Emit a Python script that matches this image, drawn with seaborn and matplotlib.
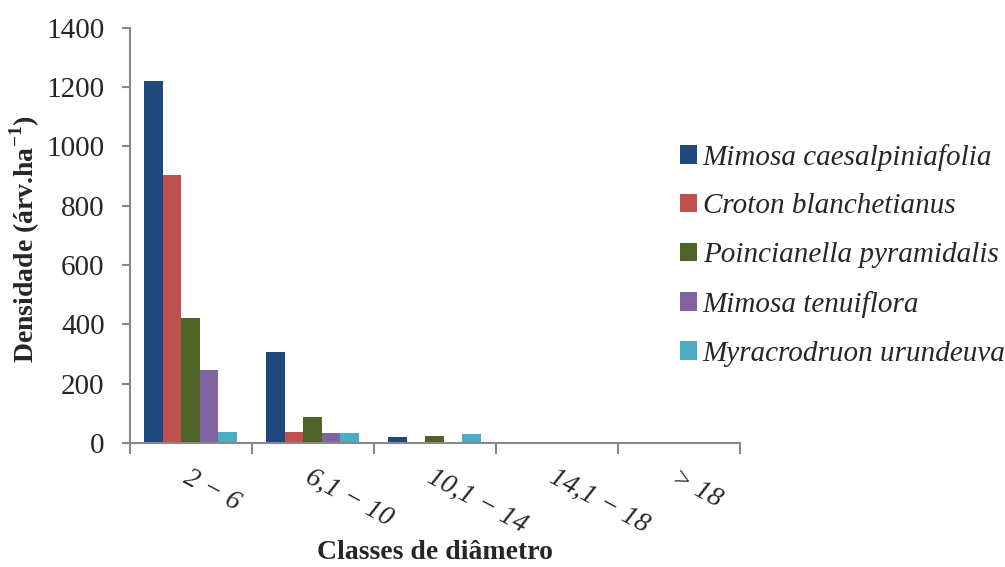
import pandas as pd
import matplotlib.pyplot as plt
import seaborn as sns

# dados
classes = ['2 − 6', '6,1 − 10', '10,1 − 14', '14,1 − 18', '> 18']
especies = ['Mimosa caesalpiniafolia', 'Croton blanchetianus',
            'Poincianella pyramidalis', 'Mimosa tenuiflora',
            'Myracrodruon urundeuva']
mimosa_caes = [1220, 305, 20, 4, 0]
croton = [905, 38, 0, 0, 0]
poincianella = [420, 87, 23, 0, 0]
mimosa_ten = [245, 33, 0, 0, 0]
myracrodruon = [35, 33, 30, 0, 3]
cores = ['#1F497D', '#C0504D', '#4F6228', '#8064A2', '#4BACC6']

valores = [mimosa_caes, croton, poincianella, mimosa_ten, myracrodruon]
linhas = []
for esp, vals in zip(especies, valores):
    for c, v in zip(classes, vals):
        linhas.append({'Classe': c, 'Especie': esp, 'Densidade': v})
df = pd.DataFrame(linhas)

sns.set_style('white')
plt.rcParams['font.family'] = ['Liberation Serif', 'DejaVu Serif']

fig = plt.figure(figsize=(10.05, 5.67), dpi=100)
ax = fig.add_axes([0.129, 0.219, 0.607, 0.732])
sns.barplot(data=df, x='Classe', y='Densidade', hue='Especie',
            order=classes, hue_order=especies, palette=cores,
            width=0.76, saturation=1, ax=ax, edgecolor='none')

ax.set_ylim(0, 1400)
ax.set_yticks(range(0, 1401, 200))
ax.set_xlim(-0.5, 4.5)
ax.set_xticks([i - 0.5 for i in range(6)])
ax.set_xticklabels([])
ax.set_xticks(range(5), minor=True)
ax.set_xticklabels(classes, minor=True, rotation=-28, ha='left',
                   rotation_mode='anchor', fontstyle='italic', fontsize=20)
ax.tick_params(axis='x', which='minor', bottom=False, length=0, pad=16)
ax.tick_params(axis='x', which='major', bottom=True, length=8, width=1.5,
               color='#888888', direction='out')
ax.tick_params(axis='y', left=True, length=6, width=1.5, color='#888888',
               direction='out', labelsize=21, pad=12)

for s in ['top', 'right']:
    ax.spines[s].set_visible(False)
for s in ['left', 'bottom']:
    ax.spines[s].set_color('#888888')
    ax.spines[s].set_linewidth(1.5)

ax.set_ylabel('Densidade (árv.ha$^{\\mathregular{-1}}$)', fontsize=20,
              fontweight='bold')
ax.yaxis.set_label_coords(-0.172, 0.49)
ax.yaxis.label.set_ha('center')
ax.yaxis.label.set_va('center')
ax.set_xlabel('Classes de diâmetro', fontsize=20, fontweight='bold')
ax.xaxis.set_label_coords(0.5, -0.265)
ax.xaxis.label.set_va('center')

h, l = ax.get_legend_handles_labels()
ax.legend(h, l, loc='center left', bbox_to_anchor=(0.65, 0.55),
          bbox_transform=fig.transFigure, frameon=False, handlelength=0.6,
          handleheight=0.6, labelspacing=0.78, handletextpad=0.2,
          prop={'style': 'italic', 'size': 21})

fig.savefig('out.png', dpi=100)
